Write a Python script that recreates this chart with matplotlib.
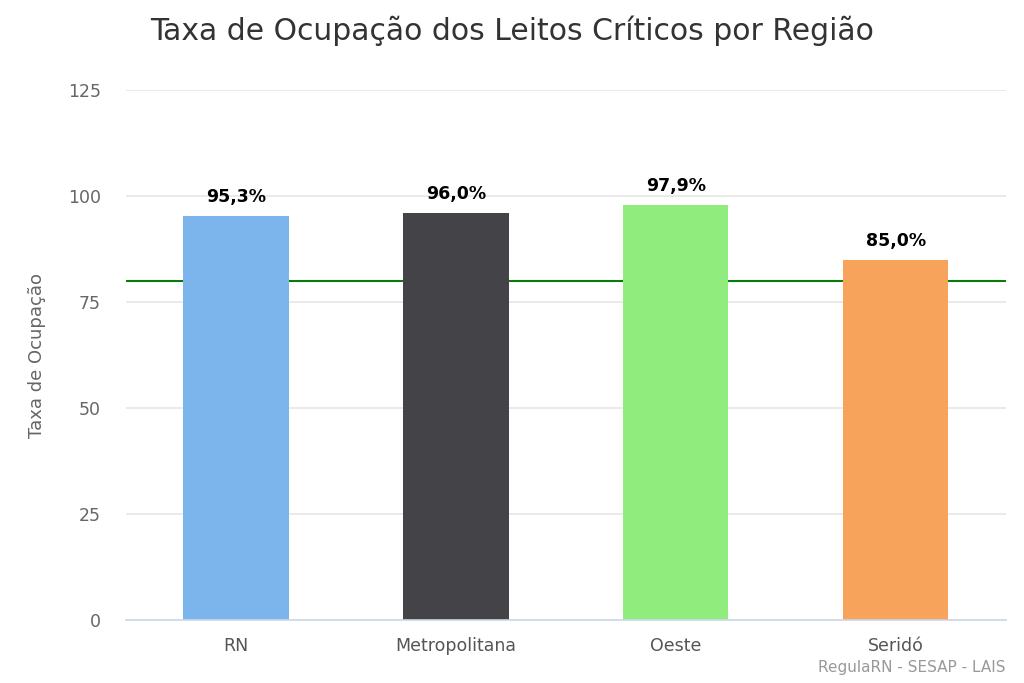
import matplotlib
matplotlib.use("Agg")
import matplotlib.pyplot as plt

# Taxa de ocupação por região
regioes = ["RN", "Metropolitana", "Oeste", "Seridó"]
taxas = [95.3, 96.0, 97.9, 85.0]
cores = ["#7cb5ec", "#434348", "#90ed7d", "#f7a35c"]
rotulos = ["95,3%", "96,0%", "97,9%", "85,0%"]
meta = 80
yticks = [0, 25, 50, 75, 100, 125]

plt.rcParams['font.family'] = ['DejaVu Sans']

fig = plt.figure(figsize=(10.24, 6.83), dpi=100)
ax = fig.add_axes([0.123, 0.0922, 0.859, 0.776])

x = list(range(len(regioes)))
ax.bar(x, taxas, width=0.48, color=cores, zorder=3)
ax.axhline(meta, color="#0a7a0a", lw=1.5, zorder=2)

for i, v in enumerate(taxas):
    ax.annotate(rotulos[i], (i, v), xytext=(0, 7), textcoords="offset points",
                ha="center", va="bottom", fontsize=12.5, fontweight="bold",
                color="#000000")

ax.set_xlim(-0.5, len(regioes) - 0.5)
ax.set_ylim(0, 125)
ax.set_yticks(yticks)
ax.set_yticklabels([str(t) for t in yticks], fontsize=12.5, color="#666666")
ax.set_xticks(x)
ax.set_xticklabels(regioes, fontsize=12.5, color="#555555")
ax.tick_params(axis="y", length=0, pad=18)
ax.tick_params(axis="x", length=0, pad=12)
ax.grid(axis="y", color="#e6e6e6", lw=1.2, zorder=0)
for s in ["top", "right", "left"]:
    ax.spines[s].set_visible(False)
ax.spines["bottom"].set_color("#ccd6eb")
ax.spines["bottom"].set_linewidth(1.2)
ax.spines["bottom"].set_zorder(4)

ax.set_ylabel("Taxa de Ocupação", fontsize=13, color="#666666", labelpad=16)

fig.text(0.5, 0.955, "Taxa de Ocupação dos Leitos Críticos por Região",
         ha="center", va="center", fontsize=21.5, color="#333333")
fig.text(0.982, 0.022, "RegulaRN - SESAP - LAIS", ha="right", va="center",
         fontsize=11, color="#999999")

fig.savefig("out.png", dpi=100)
plt.close()
